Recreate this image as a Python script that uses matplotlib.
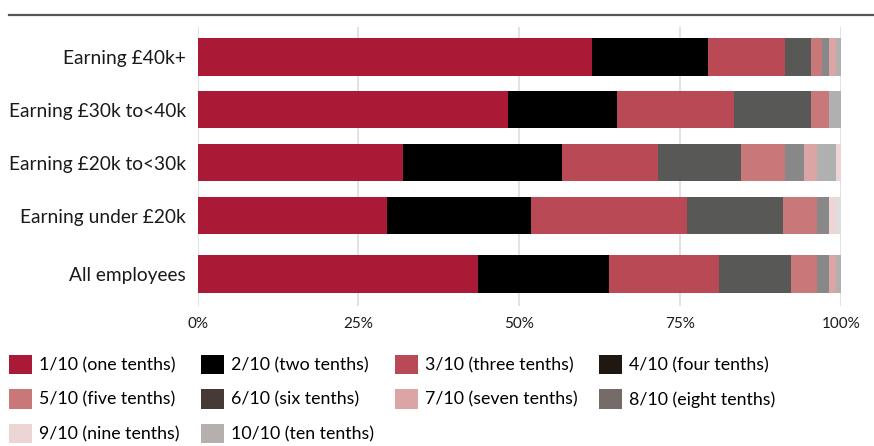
import matplotlib
matplotlib.use('Agg')
import matplotlib.pyplot as plt
from matplotlib.patches import Patch
from matplotlib.lines import Line2D
import numpy as np

plt.rcParams['font.family'] = ['Lato', 'DejaVu Sans']

categories = ['Earning £40k+', 'Earning £30k to<40k', 'Earning £20k to<30k',
              'Earning under £20k', 'All employees']

# shares (%) for 1/10 ... 10/10, one list per row
earning_40k_plus = [61.3, 18.0, 12.0, 4.0, 1.8, 1.1, 1.1, 0.8, 0.0, 0.0]
earning_30k_40k = [48.3, 16.9, 18.1, 12.0, 2.9, 0.0, 0.0, 1.9, 0.0, 0.0]
earning_20k_30k = [32.0, 24.6, 14.9, 12.9, 6.9, 3.0, 1.9, 3.1, 0.7, 0.0]
earning_under_20k = [29.5, 22.3, 24.2, 15.0, 5.2, 2.0, 0.0, 0.0, 1.0, 0.9]
all_employees = [43.6, 20.3, 17.1, 11.2, 4.0, 2.0, 1.0, 0.9, 0.0, 0.0]

series_labels = ['1/10 (one tenths)', '2/10 (two tenths)', '3/10 (three tenths)',
                 '4/10 (four tenths)', '5/10 (five tenths)', '6/10 (six tenths)',
                 '7/10 (seven tenths)', '8/10 (eight tenths)', '9/10 (nine tenths)',
                 '10/10 (ten tenths)']

bar_colors = ['#AA1936', '#000000', '#B94A55', '#585856', '#C87878',
              '#888888', '#DCA5A5', '#B0B0B0', '#EED5D5', '#DDDDDD']
legend_colors = ['#AA1936', '#000000', '#B94A55', '#1F1712', '#C87878',
                 '#453A35', '#DCA5A5', '#756B68', '#EED5D5', '#B5AFAD']

rows = np.array([earning_40k_plus, earning_30k_40k, earning_20k_30k,
                 earning_under_20k, all_employees])

fig = plt.figure(figsize=(8.74, 4.46), dpi=100)
ax = fig.add_axes([197.5 / 874, 1 - 306 / 446, (841 - 197.5) / 874, 279 / 446])

# "All employees" sits a little apart from the earnings bands
y = np.array([0, 1, 2, 3, 4.1])
left = np.zeros(len(categories))
for i in range(rows.shape[1]):
    ax.barh(y, rows[:, i], left=left, height=0.71, color=bar_colors[i],
            linewidth=0, zorder=2)
    left += rows[:, i]

ax.set_xlim(0, 100)
ax.set_ylim(4.708, -0.562)
ax.set_yticks(y)
ax.set_yticklabels(categories, fontsize=13.8, color='#1a1a1a')
ax.set_xticks([0, 25, 50, 75, 100])
ax.set_xticklabels(['0%', '25%', '50%', '75%', '100%'], fontsize=11, color='#1a1a1a')
ax.tick_params(axis='both', length=0)
ax.tick_params(axis='x', pad=8)
ax.tick_params(axis='y', pad=8.5)
ax.grid(axis='x', color='#dddddd', linewidth=1.2, zorder=0)
for s in ax.spines.values():
    s.set_visible(False)

# rule under the (cropped) title
fig.add_artist(Line2D([9 / 874, 1.0], [1 - 15 / 446, 1 - 15 / 446],
                      color='#555555', linewidth=1.6, transform=fig.transFigure))

handles = [Patch(facecolor=c, edgecolor='none') for c in legend_colors]
order = [0, 4, 8, 1, 5, 9, 2, 6, 3, 7]
fig.legend([handles[k] for k in order], [series_labels[k] for k in order],
           ncol=4, loc='upper left', bbox_to_anchor=(9 / 874, 1 - 355 / 446),
           frameon=False, fontsize=12.8, handlelength=1.29, handleheight=1.29,
           handletextpad=0.4, labelspacing=0.845, columnspacing=1.2,
           borderpad=0, borderaxespad=0)

fig.savefig('out.png', dpi=100, facecolor='white')
